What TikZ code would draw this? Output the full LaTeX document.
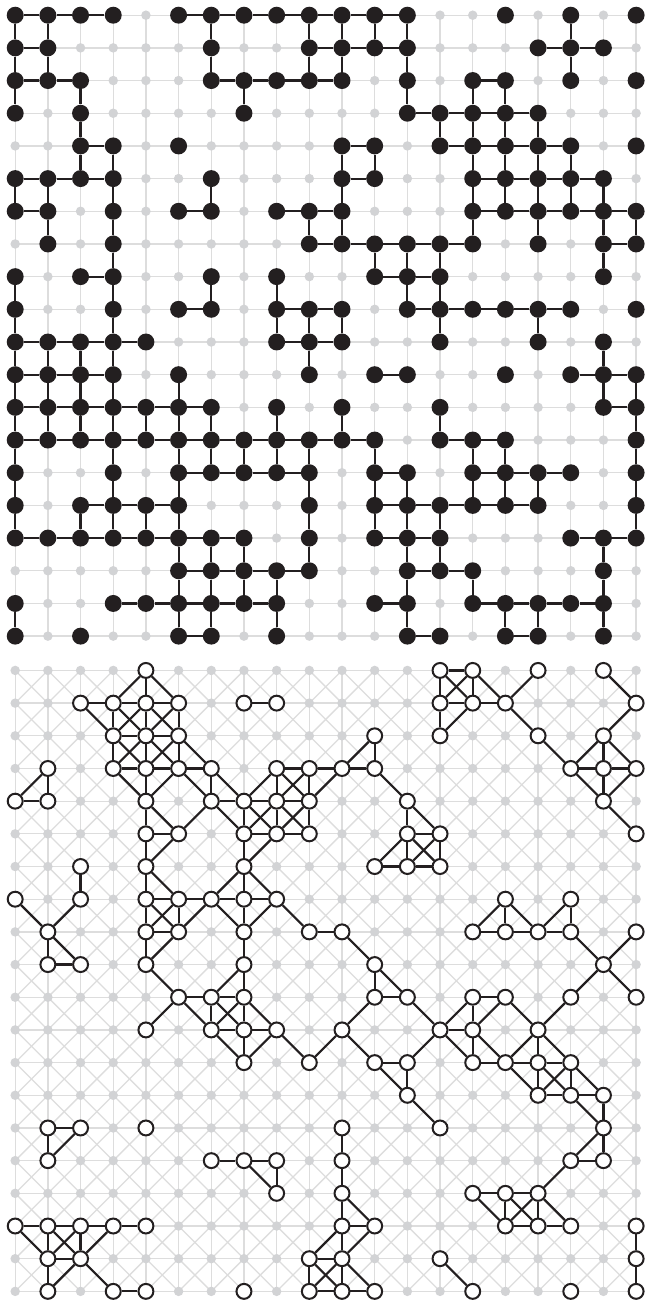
\documentclass[tikz,border=0pt]{standalone}
\usepackage{xcolor}
\usepackage{tikz}
\pgfdeclarelayer{lattice}
\pgfdeclarelayer{bonds}
\pgfsetlayers{lattice,bonds,main}
\definecolor{ink}{HTML}{231F20}
\definecolor{latgray}{HTML}{DDDDDD}
\definecolor{dotgray}{HTML}{D2D3D5}

% occupied sites, one group per row (top to bottom)
\def\sitesA{%
{0,1,2,3,5,6,7,8,9,10,11,12,15,17,19},%
{0,1,6,9,10,11,12,16,17,18},%
{0,1,2,6,7,8,9,10,12,14,15,17,19},%
{0,2,7,12,13,14,15,16},%
{2,3,5,10,11,13,14,15,16,17,19},%
{0,1,2,3,6,10,11,14,15,16,17,18},%
{0,1,3,5,6,8,9,10,14,15,16,17,18,19},%
{1,3,9,10,11,12,13,14,16,18,19},%
{0,2,3,6,8,11,12,13,18},%
{0,3,5,6,8,9,10,12,13,14,15,16,17,19},%
{0,1,2,3,4,8,9,10,13,16,18},%
{0,1,2,3,5,9,11,12,15,17,18,19},%
{0,1,2,3,4,5,6,8,10,13,18,19},%
{0,1,2,3,4,5,6,7,8,9,10,11,13,14,15,19},%
{0,3,5,6,7,8,9,11,12,14,15,16,17,19},%
{0,2,3,4,5,9,11,12,13,14,15,16,19},%
{0,1,2,3,4,5,6,7,9,11,12,13,17,18,19},%
{5,6,7,8,9,12,13,14,18},%
{0,3,4,5,6,7,8,11,12,14,15,16,17,18},%
{0,2,5,6,8,12,13,15,16,18}}
\def\sitesB{%
{4,13,14,16,18},%
{2,3,4,5,7,8,13,14,15,19},%
{3,4,5,11,13,16,18},%
{1,3,4,5,6,8,9,10,11,17,18,19},%
{0,1,4,6,7,8,9,12,18},%
{4,5,7,8,9,12,13,19},%
{2,4,7,11,12,13},%
{0,2,4,5,6,7,8,15,17},%
{1,4,5,7,9,10,14,15,16,17,19},%
{1,2,4,7,11,18},%
{5,6,7,11,12,14,15,17,19},%
{4,6,7,8,10,13,14,16},%
{7,9,11,12,14,15,16,17},%
{12,16,17,18},%
{1,2,4,10,13,18},%
{1,6,7,8,10,17,18},%
{8,10,14,15,16},%
{0,1,2,3,4,10,11,15,16,17,19},%
{1,2,9,10,13,19},%
{1,3,4,7,9,10,11,14,17,19}}

\begin{document}
\begin{tikzpicture}[x=0.8cm,y=-0.8cm,
    lat/.style={draw=latgray,line width=0.9pt},
    bond/.style={draw=ink,line width=1.5pt},
    fullsite/.style={circle,fill=ink,minimum size=11.8pt,inner sep=0pt},
    opensite/.style={circle,draw=ink,fill=white,line width=1.4pt,
                     minimum size=10.4pt,inner sep=0pt}]
  \def\off{20.05}
  \useasboundingbox (-0.465,-0.465) rectangle (19.303,39.345);
  \begin{pgfonlayer}{lattice}
    \fill[white] (-0.465,-0.465) rectangle (19.303,39.345);
    \foreach \i in {0,...,19} {
      \draw[lat] (\i,0) -- (\i,19);
      \draw[lat] (0,\i) -- (19,\i);
      \draw[lat] (\i,\off) -- (\i,\off+19);
      \draw[lat] (0,\i+\off) -- (19,\i+\off);
    }
    \foreach \r in {0,...,18}
      \foreach \c in {0,...,18} {
        \draw[lat] (\c,\r+\off) -- (\c+1,\r+\off+1);
        \draw[lat] (\c+1,\r+\off) -- (\c,\r+\off+1);
      }
    \foreach \r in {0,...,19}
      \foreach \c in {0,...,19} {
        \fill[dotgray] (\c,\r) circle (3.3pt);
        \fill[dotgray] (\c,\r+\off) circle (3.3pt);
      }
  \end{pgfonlayer}

  % square lattice
  \foreach \cols [count=\r from 0] in \sitesA
    \foreach \c in \cols {
      \expandafter\xdef\csname A-\r-\c\endcsname{1}
      \node[fullsite] (a-\r-\c) at (\c,\r) {};
    }
  % square lattice with diagonals
  \foreach \cols [count=\r from 0] in \sitesB
    \foreach \c in \cols {
      \expandafter\xdef\csname B-\r-\c\endcsname{1}
      \node[opensite] (b-\r-\c) at (\c,\r+\off) {};
    }

  \begin{pgfonlayer}{bonds}
    \foreach \cols [count=\r from 0] in \sitesA
      \foreach \c in \cols {
        \pgfmathtruncatemacro\cnext{\c+1}
        \pgfmathtruncatemacro\rnext{\r+1}
        \ifcsname A-\r-\cnext\endcsname \draw[bond] (a-\r-\c) -- (a-\r-\cnext); \fi
        \ifcsname A-\rnext-\c\endcsname \draw[bond] (a-\r-\c) -- (a-\rnext-\c); \fi
      }
    \foreach \cols [count=\r from 0] in \sitesB
      \foreach \c in \cols {
        \pgfmathtruncatemacro\cnext{\c+1}
        \pgfmathtruncatemacro\cprev{\c-1}
        \pgfmathtruncatemacro\rnext{\r+1}
        \ifcsname B-\r-\cnext\endcsname \draw[bond] (b-\r-\c) -- (b-\r-\cnext); \fi
        \ifcsname B-\rnext-\c\endcsname \draw[bond] (b-\r-\c) -- (b-\rnext-\c); \fi
        \ifcsname B-\rnext-\cnext\endcsname \draw[bond] (b-\r-\c) -- (b-\rnext-\cnext); \fi
        \ifcsname B-\rnext-\cprev\endcsname \draw[bond] (b-\r-\c) -- (b-\rnext-\cprev); \fi
      }
  \end{pgfonlayer}
\end{tikzpicture}
\end{document}
